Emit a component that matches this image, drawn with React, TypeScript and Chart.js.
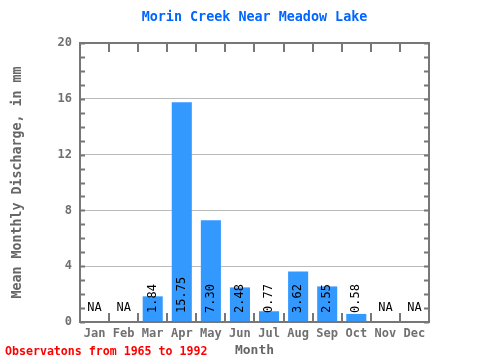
import React, { useEffect, useRef } from "react";
import { Chart, registerables } from "chart.js";

Chart.register(...registerables);

const months = ["Jan", "Feb", "Mar", "Apr", "May", "Jun", "Jul", "Aug", "Sep", "Oct", "Nov", "Dec"];
const discharge: (number | null)[] = [null, null, 1.84, 15.75, 7.3, 2.48, 0.77, 3.62, 2.55, 0.58, null, null];
const yTicks = [0, 4, 8, 12, 16, 20];
const titleText = "Morin Creek Near Meadow Lake";
const yTitle = "Mean Monthly Discharge, in mm";
const xTitle = "Month";
const footnote = "Observatons from 1965 to 1992";

const FONT = "'DejaVu Sans Mono', 'Liberation Mono', monospace";

const decor = {
  id: "decor",
  beforeDraw(chart: any) {
    const ctx = chart.ctx;
    ctx.save();
    ctx.fillStyle = "#ffffff";
    ctx.fillRect(0, 0, chart.width, chart.height);
    ctx.restore();
  },
  afterDraw(chart: any) {
    const ctx = chart.ctx;
    const { left, right, top, bottom } = chart.chartArea;
    const x = chart.scales.x;
    const y = chart.scales.y;
    ctx.save();
    // value labels
    ctx.fillStyle = "#000000";
    ctx.font = `12px ${FONT}`;
    discharge.forEach((v, i) => {
      const px = x.getPixelForValue(i);
      if (v === null) {
        ctx.textAlign = "center";
        ctx.textBaseline = "middle";
        ctx.fillText("NA", px, bottom - 14);
      } else {
        ctx.save();
        ctx.translate(px, bottom - 9);
        ctx.rotate(-Math.PI / 2);
        ctx.textAlign = "left";
        ctx.textBaseline = "middle";
        ctx.fillText(v.toFixed(2), 0, 0);
        ctx.restore();
      }
    });
    // border
    ctx.strokeStyle = "#777777";
    ctx.lineWidth = 2;
    ctx.strokeRect(left, top, right - left, bottom - top);
    // y minor ticks
    for (let v = 0; v <= 20; v++) {
      const py = Math.round(y.getPixelForValue(v)) + 0.5;
      ctx.beginPath();
      ctx.moveTo(left, py);
      ctx.lineTo(left + 5, py);
      ctx.moveTo(right - 5, py);
      ctx.lineTo(right, py);
      ctx.stroke();
    }
    // x ticks at boundaries
    for (let i = 1; i < months.length; i++) {
      const px = Math.round((x.getPixelForValue(i - 1) + x.getPixelForValue(i)) / 2);
      ctx.beginPath();
      ctx.moveTo(px, top);
      ctx.lineTo(px, top + 9);
      ctx.moveTo(px, bottom);
      ctx.lineTo(px, bottom - 9);
      ctx.stroke();
    }
    // title
    ctx.fillStyle = "#0066ff";
    ctx.font = `bold 13.4px ${FONT}`;
    ctx.textAlign = "center";
    ctx.textBaseline = "middle";
    ctx.fillText(titleText, (left + right) / 2, 18);
    // footnote
    ctx.fillStyle = "#ff0000";
    ctx.font = `bold 11.6px ${FONT}`;
    ctx.textAlign = "left";
    ctx.fillText(footnote, 5, 352);
    ctx.restore();
  },
};

export default function App() {
  const ref = useRef<HTMLCanvasElement>(null);
  useEffect(() => {
    if (!ref.current) return;
    const chart = new Chart(ref.current, {
      type: "bar",
      data: {
        labels: months,
        datasets: [
          {
            data: discharge,
            backgroundColor: "#3399ff",
            borderWidth: 0,
            barPercentage: 0.69,
            categoryPercentage: 1,
          },
        ],
      },
      options: {
        responsive: false,
        animation: false,
        devicePixelRatio: 1,
        layout: { padding: { top: 43, right: 51, left: 0, bottom: 0 } },
        plugins: { legend: { display: false }, tooltip: { enabled: false }, title: { display: false } },
        scales: {
          x: {
            grid: { display: false, drawTicks: false },
            border: { display: false },
            ticks: { color: "#707070", font: { family: FONT, size: 12, weight: "bold" }, padding: 5, maxRotation: 0, autoSkip: false },
            title: { display: true, text: xTitle, color: "#666666", font: { family: FONT, size: 13, weight: "bold" }, padding: { top: 0, bottom: 2 } },
            afterFit(s: any) {
              s.height = 38;
            },
          },
          y: {
            min: 0,
            max: 20,
            afterBuildTicks(s: any) {
              s.ticks = yTicks.map((v) => ({ value: v }));
            },
            grid: { color: "#bbbbbb", drawTicks: false },
            border: { display: false },
            ticks: { color: "#707070", font: { family: FONT, size: 12, weight: "bold" }, padding: 8 },
            title: { display: true, text: yTitle, color: "#666666", font: { family: FONT, size: 13.3, weight: "bold" }, padding: { top: 10, bottom: 0 } },
            afterFit(s: any) {
              s.width = 80;
            },
          },
        },
      },
      plugins: [decor],
    });
    return () => chart.destroy();
  }, []);
  return (
    <div style={{ position: "absolute", left: 0, top: 0, width: 480, height: 360 }}>
      <canvas ref={ref} width={480} height={360} />
    </div>
  );
}
